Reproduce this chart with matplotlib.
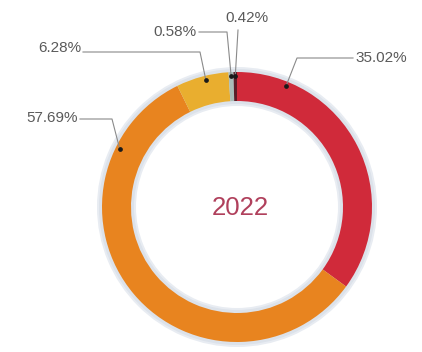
import numpy as np
import matplotlib
matplotlib.use("Agg")
import matplotlib.pyplot as plt
from matplotlib.patches import Wedge

# ---- data ----
labels = ["35.02%", "57.69%", "6.28%", "0.58%", "0.42%"]
values = [35.02, 57.69, 6.28, 0.58, 0.42]
colors = ["#D02A3A", "#E8841F", "#E9AE2F", "#A9BDB9", "#5A1E28"]
center_text = "2022"

# ---- label layout (pixel space, y downward) ----
anchor_frac = [0.175, 0.82, 0.55, 0.5, 0.5]        # where along each wedge the dot sits
elbows = [(297, 58), (112, 119), (200, 52), (227, 32), (238, 30)]
line_ends = [(353, 58), (80, 119), (83, 52), (199, 32), (238, 30)]
text_pos = [(355, 58, "left"), (78, 118, "right"), (81, 48, "right"),
            (197, 32, "right"), (247, 18, "center")]

W, H = 422, 352
fig = plt.figure(figsize=(W / 100, H / 100), dpi=100)
ax = fig.add_axes([0, 0, 1, 1])

cx, cy = 237, H - 207
R, width = 135, 29

# soft halo behind the ring
ax.add_patch(Wedge((cx, cy), R + 5, 0, 360, width=width + 10,
                   facecolor="#E8ECF2", edgecolor="none", zorder=0))
ax.add_patch(Wedge((cx, cy), R + 3, 0, 360, width=width + 6,
                   facecolor="#DCE2EA", edgecolor="none", zorder=0))

ax.pie(values, colors=colors, startangle=90, counterclock=False,
       radius=R, center=(cx, cy),
       wedgeprops=dict(width=width, edgecolor="none"), frame=True)

# label leaders
total = sum(values)
start = 0.0
for i, v in enumerate(values):
    a0 = start
    a1 = start + v / total * 360
    start = a1
    ang = 90 - (a0 + (a1 - a0) * anchor_frac[i])
    rr = R - 4
    dx = cx + rr * np.cos(np.radians(ang))
    dy = cy + rr * np.sin(np.radians(ang))
    ex, ey = elbows[i]
    lx, ly = line_ends[i]
    ax.plot([dx, ex, lx], [dy, H - ey, H - ly], color="#8A8A8A", lw=0.8, zorder=5)
    ax.plot([dx], [dy], "o", color="#1A1A1A", ms=2.4, zorder=6)
    tx, ty, ha = text_pos[i]
    ax.text(tx, H - ty, labels[i], ha=ha, va="center", fontsize=11,
            family="Liberation Sans", color="#5A5A5A", zorder=7)

ax.text(cx + 3, cy - 1, center_text, ha="center", va="center", fontsize=18.5,
        family="Liberation Sans", color="#B0405C")

ax.set_xlim(0, W)
ax.set_ylim(0, H)
ax.set_aspect("equal")
ax.axis("off")
fig.savefig("out.png", dpi=100, facecolor="white")
